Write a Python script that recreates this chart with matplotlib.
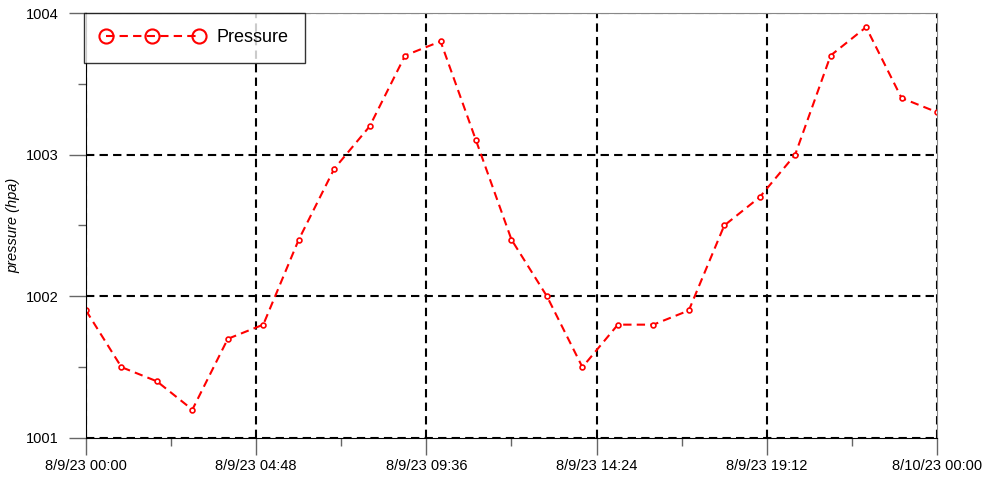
import datetime as dt
import numpy as np
import pandas as pd
import matplotlib
matplotlib.use("Agg")
import matplotlib.pyplot as plt
import matplotlib.dates as mdates
from matplotlib.ticker import FuncFormatter, MultipleLocator

plt.rcParams['font.family'] = ['Liberation Sans', 'DejaVu Sans']

START = "2023-08-09 00:00"
N_HOURS = 25
PRESSURE = [1001.9, 1001.5, 1001.4, 1001.2, 1001.7, 1001.8, 1002.4, 1002.9, 1003.2,
            1003.7, 1003.8, 1003.1, 1002.4, 1002.0, 1001.5, 1001.8, 1001.8, 1001.9,
            1002.5, 1002.7, 1003.0, 1003.7, 1003.9, 1003.4, 1003.3]
YLIM = (1001, 1004)
LABEL = "Pressure"

times = pd.date_range(START, periods=N_HOURS, freq="h")
x = mdates.date2num(times.to_pydatetime())

fig = plt.figure(figsize=(9.86, 4.91), dpi=100)
ax = fig.add_axes([0.0872, 0.108, 0.8631, 0.8655])

ax.plot(x, PRESSURE, color="red", linestyle=(0, (4, 2.5)), linewidth=1.5,
        marker="o", markersize=3.5, markerfacecolor="white", markeredgecolor="red",
        markeredgewidth=1.2, label=LABEL)

x0 = x[0]
ax.set_xlim(x0, x0 + 1)
ax.set_ylim(*YLIM)

ax.set_xticks([x0 + 0.2 * i for i in range(6)])
ax.set_xticks([x0 + 0.1 + 0.2 * i for i in range(5)], minor=True)


def fmt_date(v, pos):
    d = mdates.num2date(v) + dt.timedelta(seconds=30)
    return f"{d.month}/{d.day}/{d:%y} {d:%H:%M}"


ax.xaxis.set_major_formatter(FuncFormatter(fmt_date))
ax.yaxis.set_major_locator(MultipleLocator(1))
ax.yaxis.set_minor_locator(MultipleLocator(0.5))
ax.yaxis.set_major_formatter(FuncFormatter(lambda v, p: f"{v:.0f}"))

ax.tick_params(which="major", direction="out", length=12.5, width=1, color="#666666",
               labelsize=10.5)
ax.tick_params(which="minor", direction="out", length=6, width=1, color="#666666")
ax.tick_params(axis="y", which="major", pad=7)
ax.tick_params(axis="x", which="major", pad=3)

ax.grid(True, which="major", color="black", linestyle=(0, (4, 2.5)), linewidth=1.5)
for s in ["top", "right"]:
    ax.spines[s].set_color("#888888")
for s in ["left", "bottom"]:
    ax.spines[s].set_color("black")
    ax.spines[s].set_zorder(3)

ax.set_ylabel("pressure (hpa)", fontstyle="italic", fontsize=10.5, labelpad=4)

leg = ax.legend(loc="upper left", numpoints=3, markerscale=2.9, fontsize=13,
                frameon=True, fancybox=False, borderaxespad=0.0,
                handlelength=5.75, handletextpad=0.7, borderpad=0.9,
                bbox_to_anchor=(-0.002, 1.0))
leg.get_frame().set_edgecolor("black")
leg.get_frame().set_linewidth(1.0)
for line in leg.get_lines():
    line.set_markeredgewidth(1.5)
    line.set_markerfacecolor("none")

fig.savefig("out.png", dpi=100)
